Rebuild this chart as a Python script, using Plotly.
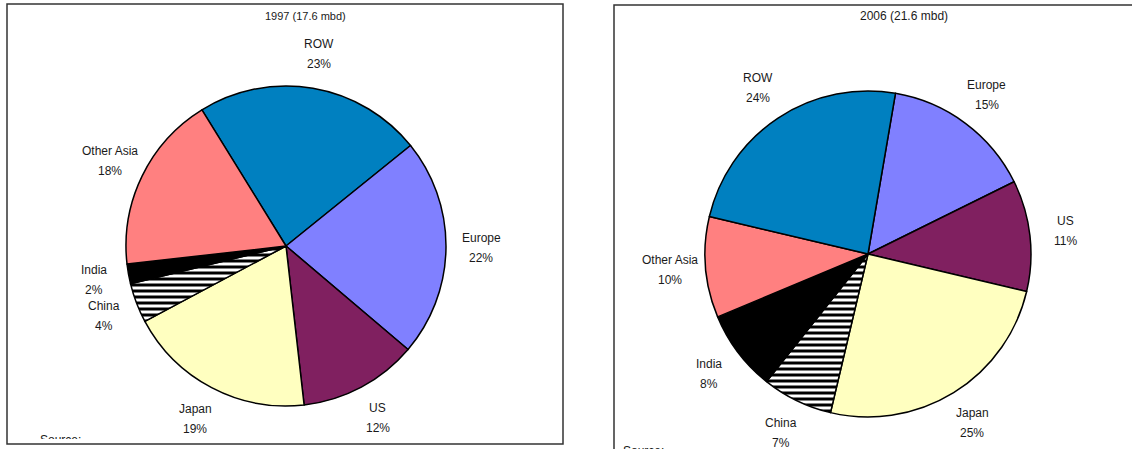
import math
import plotly.graph_objects as go

W, H = 1132, 449

# ---- data ----
labels_1997 = ["ROW", "Europe", "US", "Japan", "China", "India", "Other Asia"]
values_1997 = [23, 22, 12, 19, 4, 2, 18]
colors_1997 = ["#0080C0", "#8080FF", "#802060", "#FFFFC0", "#FFFFFF", "#000000", "#FF8080"]
title_1997 = "1997 (17.6 mbd)"

labels_2006 = ["Europe", "US", "Japan", "China", "India", "Other Asia", "ROW"]
values_2006 = [15, 11, 25, 7, 8, 10, 24]
colors_2006 = ["#8080FF", "#802060", "#FFFFC0", "#FFFFFF", "#000000", "#FF8080", "#0080C0"]
title_2006 = "2006 (21.6 mbd)"

FONT = "Liberation Sans, Arial, sans-serif"
TXT = "#1a1a1a"


def px(x):
    return x / W


def py(y):
    return 1 - y / H


fig = go.Figure()
annotations = []


def add_pie(labels, values, colors, cx, cy, r, rot):
    shapes = ["-" if l == "China" else "" for l in labels]
    fig.add_trace(go.Pie(
        labels=labels, values=values, sort=False, direction="clockwise",
        rotation=rot, textinfo="none", hoverinfo="label+percent",
        showlegend=False,
        domain=dict(x=[px(cx - r), px(cx + r)], y=[py(cy + r), py(cy - r)]),
        marker=dict(colors=colors, line=dict(color="black", width=1.5),
                    pattern=dict(shape=shapes, fgcolor="black", bgcolor="white",
                                 size=6, solidity=0.5)),
    ))
    total = sum(values)
    start = rot
    for lab, v in zip(labels, values):
        span = v / total * 360
        mid = math.radians(start + span / 2)
        start += span
        d = 1.22 * r
        lx = cx + d * math.sin(mid)
        ly = cy - d * math.cos(mid)
        annotations.append(dict(x=px(lx), y=py(ly - 10), xref="paper", yref="paper",
                                text=lab, showarrow=False, xanchor="center", yanchor="middle",
                                font=dict(family=FONT, size=12, color=TXT)))
        annotations.append(dict(x=px(lx), y=py(ly + 10), xref="paper", yref="paper",
                                text=f"{round(v / total * 100)}%", showarrow=False,
                                xanchor="center", yanchor="middle",
                                font=dict(family=FONT, size=12, color=TXT)))


add_pie(labels_1997, values_1997, colors_1997, 286, 246, 160, -31.7)
add_pie(labels_2006, values_2006, colors_2006, 868, 254, 163, 9.7)

# titles
annotations.append(dict(x=px(305), y=py(16), xref="paper", yref="paper", text=title_1997,
                        showarrow=False, xanchor="center", yanchor="middle",
                        font=dict(family=FONT, size=11, color=TXT)))
annotations.append(dict(x=px(904), y=py(16), xref="paper", yref="paper", text=title_2006,
                        showarrow=False, xanchor="center", yanchor="middle",
                        font=dict(family=FONT, size=12, color=TXT)))
# right "Source" cut by window edge (as in the reference)
annotations.append(dict(x=px(621), y=py(442), xref="paper", yref="paper", text="Source:",
                        showarrow=False, xanchor="left", yanchor="top",
                        font=dict(family=FONT, size=12, color=TXT)))

# left "Source:" clipped inside its frame using a hidden pixel-space axis
fig.add_trace(go.Scatter(x=[40], y=[441], mode="text", text=["Source:"],
                         textposition="middle right", cliponaxis=True,
                         textfont=dict(family=FONT, size=12, color=TXT),
                         showlegend=False, hoverinfo="skip"))

fig.update_layout(
    width=W, height=H, margin=dict(l=0, r=0, t=0, b=0),
    paper_bgcolor="white", plot_bgcolor="rgba(0,0,0,0)",
    annotations=annotations,
    xaxis=dict(visible=False, range=[8, 562], domain=[px(8), px(562)], fixedrange=True),
    yaxis=dict(visible=False, range=[439, 5], domain=[py(439), py(5)], fixedrange=True),
    shapes=[
        dict(type="rect", xref="paper", yref="paper", x0=px(7), x1=px(563), y0=py(444), y1=py(4),
             line=dict(color="#333333", width=1.5)),
        dict(type="rect", xref="paper", yref="paper", x0=px(614), x1=px(1150), y0=py(470), y1=py(5),
             line=dict(color="#333333", width=1.5)),
    ],
)

fig.write_html("out.html", config={"displayModeBar": False},
               post_script="document.body.style.margin='0';document.body.style.overflow='hidden';")
